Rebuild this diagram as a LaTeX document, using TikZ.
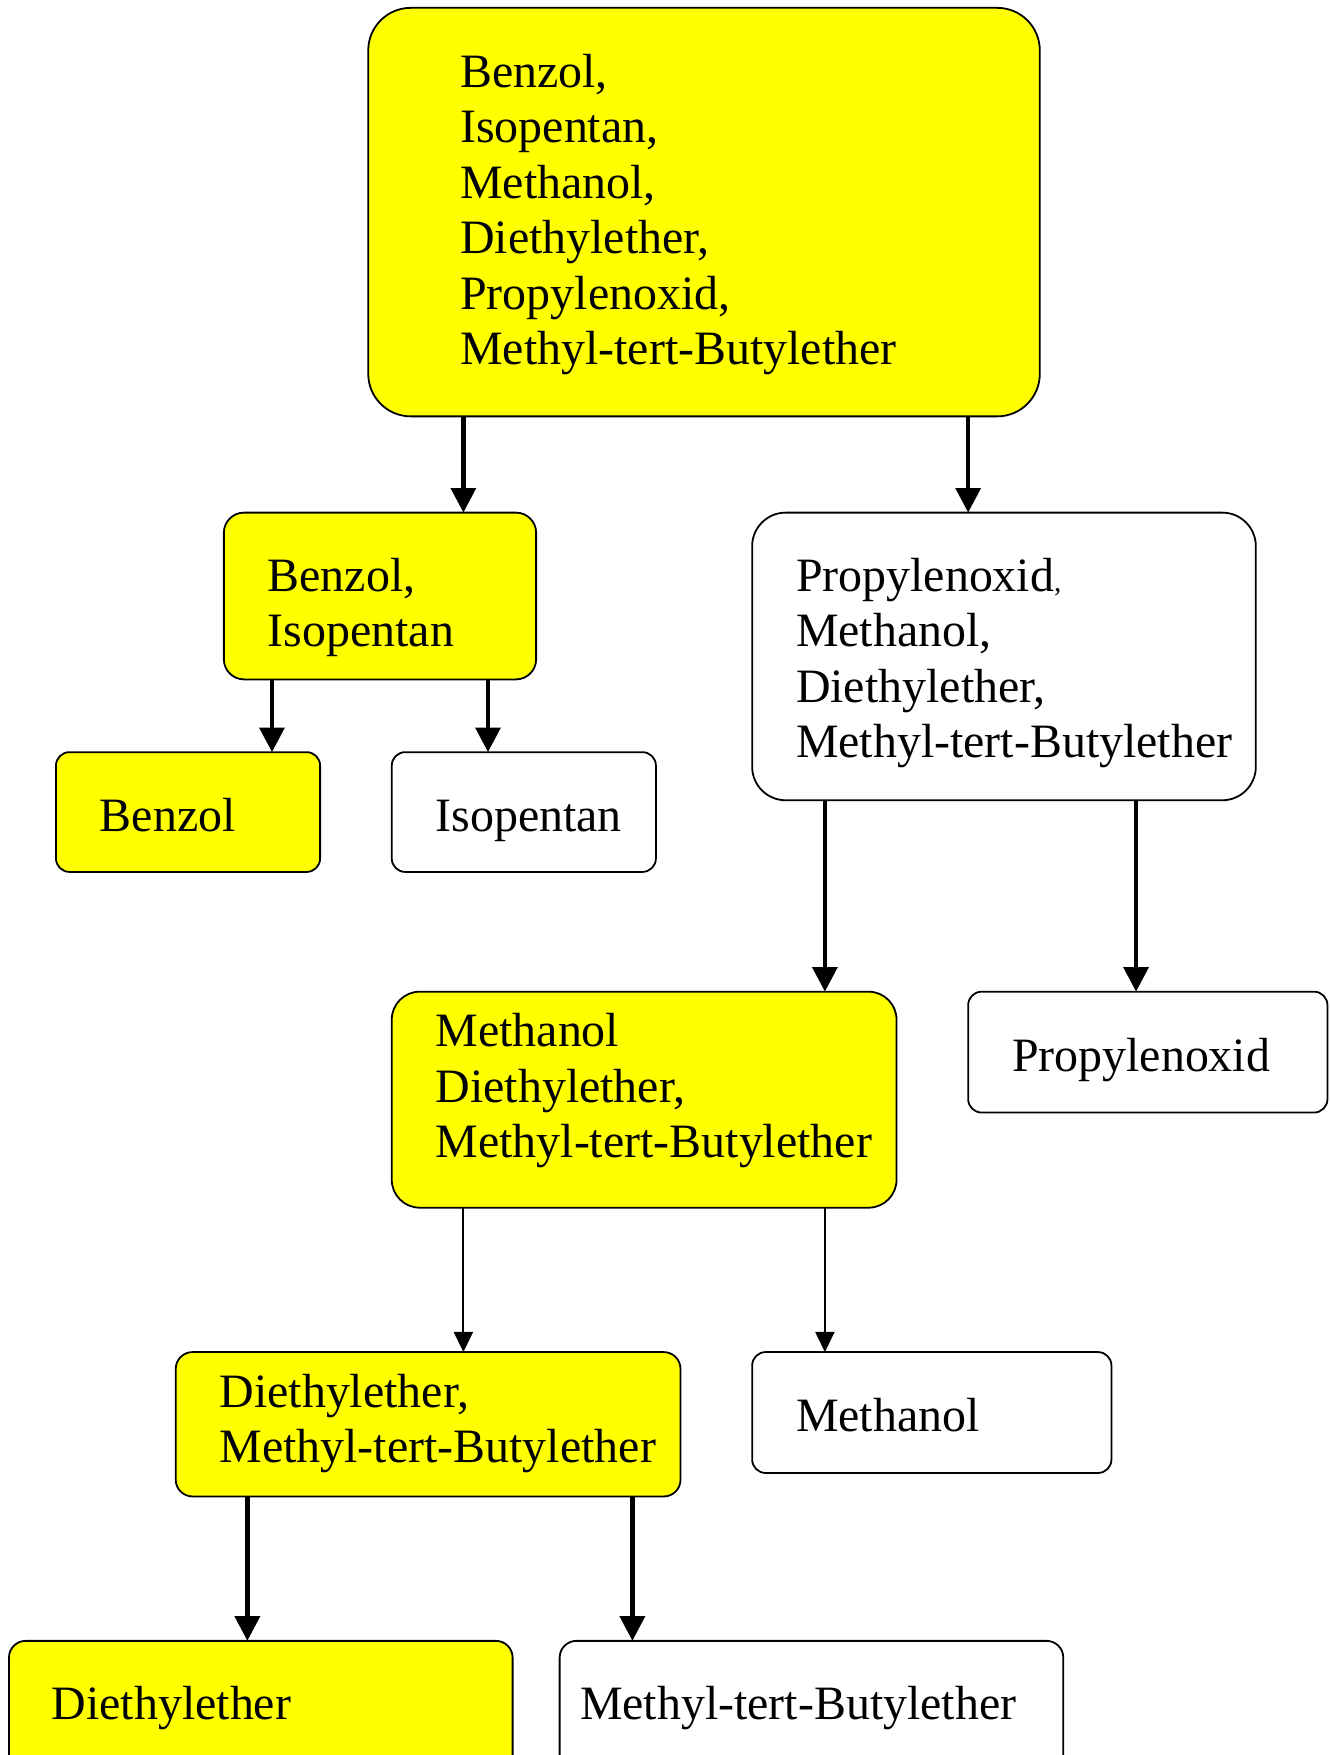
\documentclass[tikz,border=0pt]{standalone}
\usepackage{fontspec}
\setmainfont{Liberation Serif}
\usetikzlibrary{arrows.meta}
\definecolor{boxyellow}{RGB}{255,255,0}
\newcommand{\labelfont}{\fontsize{42.8pt}{49.5pt}\selectfont}
\newcommand{\firstline}{\rule{0pt}{30pt}}
\newcommand{\smallcomma}{{\fontsize{26pt}{26pt}\selectfont,}}
\begin{document}
\begin{tikzpicture}[x=1pt,y=-1pt,
  box/.style={draw=black,line width=1.6pt,anchor=north west,inner sep=0pt,outer sep=0pt},
  hot/.style={box,fill=boxyellow},
  cold/.style={box,fill=white},
  lbl/.style={anchor=north west,inner sep=0pt,align=left,font=\labelfont},
  thickarrow/.style={line width=4pt,-{Triangle[length=22pt,width=22pt]}},
  thinarrow/.style={line width=1.8pt,-{Triangle[length=18pt,width=17pt]}}]
\useasboundingbox (0,0) rectangle (1188,1568);

% boxes
\node[hot, rounded corners=38pt, minimum width=600pt, minimum height=365pt] (all) at (329,7) {};
\node[hot, rounded corners=18pt, minimum width=279pt, minimum height=149pt] (bi) at (200,458) {};
\node[hot, rounded corners=12pt, minimum width=236pt, minimum height=107pt] (benzol) at (50,672) {};
\node[cold, rounded corners=12pt, minimum width=236pt, minimum height=107pt] (isopentan) at (350,672) {};
\node[cold, rounded corners=30pt, minimum width=450pt, minimum height=257pt] (pmdm) at (672,458) {};
\node[hot, rounded corners=25pt, minimum width=451pt, minimum height=193pt] (mdm) at (350,886) {};
\node[cold, rounded corners=12pt, minimum width=321pt, minimum height=108pt] (propylen) at (865,886) {};
\node[hot, rounded corners=15pt, minimum width=451pt, minimum height=129pt] (dm) at (157,1208) {};
\node[cold, rounded corners=12pt, minimum width=321pt, minimum height=108pt] (methanol) at (672,1208) {};
\node[hot, rounded corners=15pt, minimum width=450pt, minimum height=130pt] (diethyl) at (8,1466) {};
\node[cold, rounded corners=15pt, minimum width=450pt, minimum height=130pt] (mtbe) at (500,1466) {};

% labels
\node[lbl] (t-all) at (411,48) {\firstline Benzol,\\Isopentan,\\Methanol,\\Diethylether,\\Propylenoxid,\\Methyl-tert-Butylether};
\node[lbl] (t-bi) at (239,498) {\firstline Benzol,\\Isopentan};
\node[lbl] (t-benzol) at (89,713) {\firstline Benzol};
\node[lbl] (t-isopentan) at (389,713) {\firstline Isopentan};
\node[lbl] (t-pmdm) at (711,498) {\firstline Propylenoxid\smallcomma\\Methanol,\\Diethylether,\\Methyl-tert-Butylether};
\node[lbl] (t-mdm) at (389,905) {\firstline Methanol\\Diethylether,\\Methyl-tert-Butylether};
\node[lbl] (t-propylen) at (904,927) {\firstline Propylenoxid};
\node[lbl] (t-dm) at (196,1227) {\firstline Diethylether,\\Methyl-tert-Butylether};
\node[lbl] (t-methanol) at (711,1249) {\firstline Methanol};
\node[lbl] (t-diethyl) at (46,1506) {\firstline Diethylether};
\node[lbl] (t-mtbe) at (518,1506) {\firstline Methyl-tert-Butylether};

% connectors
\draw[thickarrow] ([xshift=85pt]all.south west) -- ([xshift=214pt]bi.north west);
\draw[thickarrow] ([xshift=536pt]all.south west) -- ([xshift=193pt]pmdm.north west);
\draw[thickarrow] ([xshift=43pt]bi.south west) -- ([xshift=193pt]benzol.north west);
\draw[thickarrow] ([xshift=236pt]bi.south west) -- ([xshift=86pt]isopentan.north west);
\draw[thickarrow] ([xshift=65pt]pmdm.south west) -- ([xshift=387pt]mdm.north west);
\draw[thickarrow] ([xshift=343pt]pmdm.south west) -- ([xshift=150pt]propylen.north west);
\draw[thinarrow] ([xshift=64pt]mdm.south west) -- ([xshift=257pt]dm.north west);
\draw[thinarrow] ([xshift=387pt]mdm.south west) -- ([xshift=65pt]methanol.north west);
\draw[thickarrow] ([xshift=64pt]dm.south west) -- ([xshift=213pt]diethyl.north west);
\draw[thickarrow] ([xshift=408pt]dm.south west) -- ([xshift=65pt]mtbe.north west);
\end{tikzpicture}
\end{document}
